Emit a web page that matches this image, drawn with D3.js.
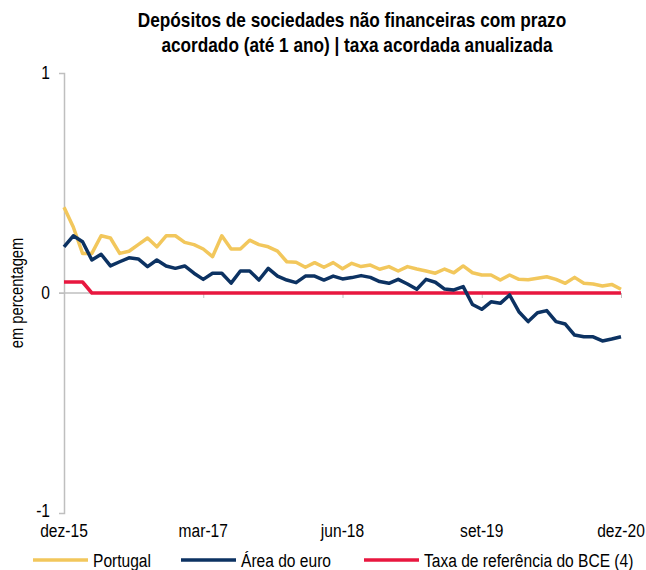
<!DOCTYPE html>
<html lang="pt">
<head>
    <meta charset="UTF-8">
    <title>Depósitos de sociedades não financeiras</title>
    <script src="https://d3js.org/d3.v7.min.js"></script>
    <style>
        body { margin: 0; background: #fff; }
        svg { display: block; font-family: "Liberation Sans", Arial, sans-serif; }
    </style>
</head>
<body>
    <svg id="chart"></svg>

    <script>
        // Monthly values, dez-15 .. dez-20 (61 months)
        const portugal = [
            0.39, 0.30, 0.18, 0.18, 0.26, 0.25, 0.18, 0.19, 0.22, 0.25,
            0.21, 0.26, 0.26, 0.23, 0.22, 0.20, 0.165, 0.26, 0.20, 0.20,
            0.24, 0.22, 0.21, 0.19, 0.142, 0.14, 0.117, 0.138, 0.117, 0.138,
            0.11, 0.135, 0.12, 0.127, 0.108, 0.12, 0.10, 0.12, 0.109, 0.10,
            0.09, 0.109, 0.092, 0.123, 0.092, 0.082, 0.082, 0.059, 0.082, 0.062,
            0.06, 0.067, 0.074, 0.062, 0.044, 0.071, 0.044, 0.041, 0.032, 0.039,
            0.017
        ];
        const euroArea = [
            0.21, 0.26, 0.233, 0.15, 0.176, 0.123, 0.142, 0.16, 0.155, 0.12,
            0.15, 0.123, 0.112, 0.123, 0.09, 0.062, 0.09, 0.09, 0.045, 0.10,
            0.10, 0.059, 0.112, 0.077, 0.059, 0.047, 0.077, 0.077, 0.059, 0.077,
            0.064, 0.07, 0.079, 0.071, 0.052, 0.044, 0.062, 0.041, 0.017, 0.062,
            0.049, 0.018, 0.014, 0.029, -0.052, -0.074, -0.04, -0.047, -0.009, -0.085,
            -0.13, -0.09, -0.08, -0.13, -0.141, -0.191, -0.199, -0.199, -0.218, -0.209,
            -0.199
        ];
        const ecbRate = [0.05, 0.05, 0.05].concat(new Array(58).fill(0));

        const xTickLabels = ["dez-15", "mar-17", "jun-18", "set-19", "dez-20"];
        const xTickIndex = [0, 15, 30, 45, 60];
        const yTicks = [-1, 0, 1];

        const width = 646, height = 570;
        const margin = { top: 73, right: 25, bottom: 57, left: 64 };
        const narrow = 0.82; // horizontal squeeze to mimic a condensed face

        const svg = d3.select("#chart")
            .attr("width", width)
            .attr("height", height);

        const x = d3.scaleLinear()
            .domain([0, portugal.length - 1])
            .range([margin.left, width - margin.right]);

        const y = d3.scaleLinear()
            .domain([-1, 1])
            .range([height - margin.bottom, margin.top]);

        const axisColor = "#bfbfbf";

        // condensed text helper
        function label(parent, px, py, str, size, anchor, bold, rotate) {
            const g = parent.append("g")
                .attr("transform", `translate(${px},${py})` + (rotate ? ` rotate(${rotate})` : "") + ` scale(${narrow},1)`);
            g.append("text")
                .attr("text-anchor", anchor || "start")
                .style("font-size", size + "px")
                .style("font-weight", bold ? "bold" : "normal")
                .attr("fill", "#000")
                .text(str);
            return g;
        }

        // Title
        label(svg, 352, 27, "Depósitos de sociedades não financeiras com prazo", 21, "middle", true);
        label(svg, 357, 52, "acordado (até 1 ano) | taxa acordada anualizada", 21, "middle", true);

        // Y axis
        const yAxis = d3.axisLeft(y).tickValues(yTicks).tickSize(5).tickFormat("");
        const gy = svg.append("g")
            .attr("transform", `translate(${margin.left},0)`)
            .call(yAxis);
        gy.select(".domain").attr("stroke", axisColor).attr("stroke-width", 1.5);
        gy.selectAll(".tick line").attr("stroke", axisColor);
        yTicks.forEach(v => {
            label(svg, margin.left - 14, y(v) + (v < 0 ? 4 : 6), String(v), 19, "end");
        });

        // X axis on the zero line
        const xAxis = d3.axisBottom(x).tickValues(xTickIndex).tickSize(5).tickFormat("");
        const gx = svg.append("g")
            .attr("transform", `translate(0,${y(0)})`)
            .call(xAxis);
        gx.select(".domain").attr("stroke", axisColor).attr("stroke-width", 1.5)
            .attr("d", `M${margin.left - 5},0H${width - margin.right}`);
        gx.selectAll(".tick line").attr("stroke", axisColor);

        // X tick labels at the bottom
        xTickIndex.forEach((d, i) => {
            label(svg, x(d), y(-1) + 24, xTickLabels[i], 19, "middle");
        });

        // Y axis title
        label(svg, 23, y(0), "em percentagem", 18, "middle", false, -90);

        // Lines
        const line = d3.line()
            .x((d, i) => x(i))
            .y(d => y(d));

        const series = [
            { name: "Portugal", values: portugal, color: "#f2c75c" },
            { name: "Área do euro", values: euroArea, color: "#0c3262" },
            { name: "Taxa de referência do BCE (4)", values: ecbRate, color: "#e8173f" }
        ];

        // draw red first, then Portugal, then euro area on top
        [series[2], series[0], series[1]].forEach(s => {
            svg.append("path")
                .datum(s.values)
                .attr("fill", "none")
                .attr("stroke", s.color)
                .attr("stroke-width", 3.5)
                .attr("stroke-linejoin", "round")
                .attr("d", line);
        });

        // Legend
        const legendX = [33, 181, 364];
        const legend = svg.append("g");
        series.forEach((s, i) => {
            legend.append("line")
                .attr("x1", legendX[i]).attr("x2", legendX[i] + 55)
                .attr("y1", 560).attr("y2", 560)
                .attr("stroke", s.color).attr("stroke-width", 3.5);
            label(legend, legendX[i] + 60, 567, s.name, 19, "start");
        });
    </script>
</body>
</html>
